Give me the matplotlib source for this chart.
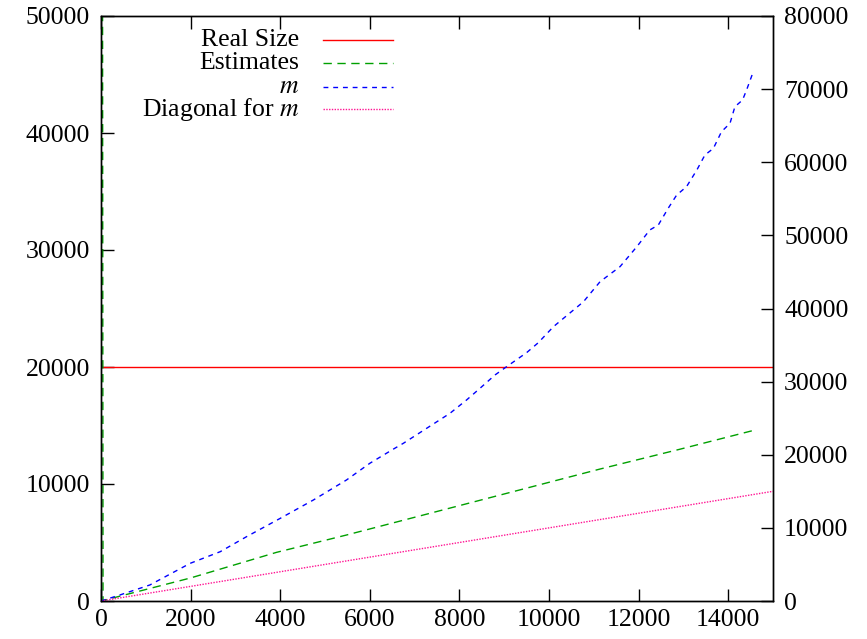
import matplotlib
matplotlib.use("Agg")
import matplotlib.pyplot as plt
from matplotlib.lines import Line2D

plt.rcParams['font.family'] = ['Liberation Serif', 'DejaVu Serif']
plt.rcParams['mathtext.fontset'] = 'stix'

# ---- data ----
real_size_x = [0, 15000]
real_size_y = [20000, 20000]

est_x = [25, 45, 2000, 3920, 5480, 11140, 12920, 14600]
est_y = [100000, 40, 1970, 4160, 5640, 11280, 12970, 14615]

m_x = [0, 420, 1090, 1990, 2660, 3250, 4000, 4740, 5480, 6000, 6520, 6750, 7270,
       7790, 8160, 8460, 8795, 9055, 9500, 9760, 10100, 10770, 11140, 11585,
       11960, 12250, 12440, 12660, 12850, 13070, 13300, 13480, 13670, 13850,
       14040, 14150, 14320, 14410, 14560]
m_y = [0, 820, 2190, 5150, 6740, 8800, 11300, 13810, 16550, 18830, 20750, 21570, 23620,
       25670, 27490, 29090, 30910, 32050, 33960, 35320, 37520, 40930, 43670, 45720,
       48450, 50740, 51420, 53700, 55520, 56660, 58940, 60990, 61900, 64180,
       65320, 67600, 68510, 69880, 72390]

diag_x = [0, 15000]
diag_y = [0, 15000]

labels = ["Real Size", "Estimates", "$m$", "Diagonal for $m$"]

FS = 18.5

fig = plt.figure(figsize=(8.67, 6.39), dpi=100)
ax = fig.add_axes([101/867, 38/639, 672/867, 585/639])
ax2 = ax.twinx()

red = '#ff0000'
green = '#00a000'
blue = '#0000ff'
mag = '#ff1493'

ax.plot(real_size_x, real_size_y, color=red, lw=1.0)
ax.plot(est_x, est_y, color=green, lw=1.0, dashes=(6, 4))
ax2.plot(m_x, m_y, color=blue, lw=1.0, dashes=(3.5, 3.5))
ax2.plot(diag_x, diag_y, color=mag, lw=1.0, dashes=(1, 1))

ax.set_xlim(0, 15000)
ax.set_ylim(0, 50000)
ax2.set_ylim(0, 80000)

ax.set_xticks(range(0, 15001, 2000))
ax.set_yticks(range(0, 50001, 10000))
ax2.set_yticks(range(0, 80001, 10000))

ax.tick_params(axis='x', direction='in', top=True, length=9, width=1, labelsize=FS, pad=6)
ax.tick_params(axis='y', direction='in', right=False, length=9, width=1, labelsize=FS, pad=8)
ax2.tick_params(axis='y', direction='in', length=9, width=1, labelsize=FS, pad=8)

for a in (ax, ax2):
    for s in a.spines.values():
        s.set_linewidth(1.0)

# legend (gnuplot style: right-aligned text, sample to the right)
styles = [dict(color=red), dict(color=green, dashes=(6, 4)),
          dict(color=blue, dashes=(3.5, 3.5)), dict(color=mag, dashes=(1, 1))]
rows = [0.959, 0.920, 0.879, 0.8405]
for lab, st, yy in zip(labels, styles, rows):
    ax2.text(0.2946, yy, lab, transform=ax2.transAxes, ha='right', va='center', fontsize=FS)
    ax2.add_line(Line2D([0.330, 0.4345], [yy, yy], transform=ax2.transAxes, lw=1.0, **st))

fig.savefig("out.png", dpi=100)
